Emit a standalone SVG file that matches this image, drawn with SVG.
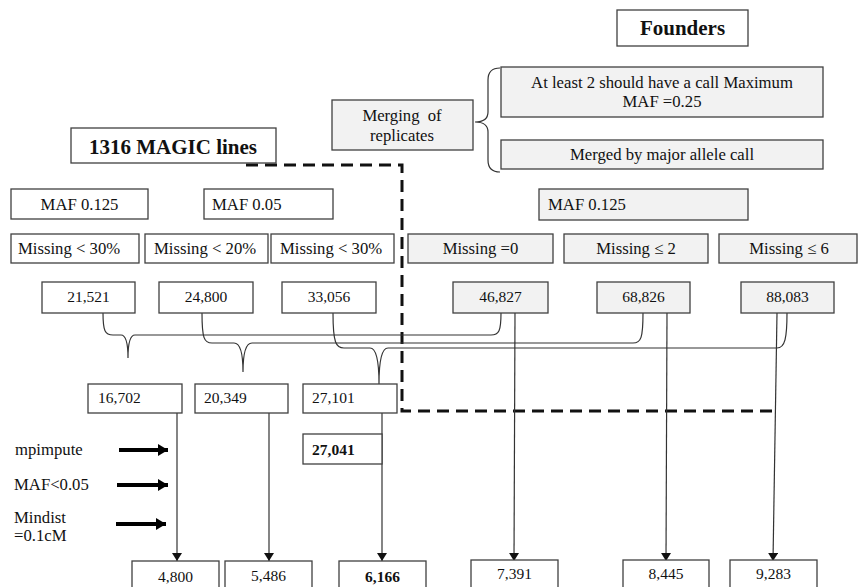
<svg xmlns="http://www.w3.org/2000/svg" width="858" height="587" viewBox="0 0 858 587">
<defs>
<style>
.b{fill:#fff;stroke:#404040;stroke-width:1.3}
.g{fill:#f2f2f2;stroke:#404040;stroke-width:1.3}
text{font-family:"Liberation Serif","Times New Roman",serif;font-size:16.7px;fill:#111}
.c{text-anchor:middle}
.bd{font-weight:bold}
.big{font-size:21px;font-weight:bold}
.num{font-size:15.5px}
.ln{fill:none;stroke:#333;stroke-width:1.2}
.dash{fill:none;stroke:#111;stroke-width:3;stroke-dasharray:12 7}
.thick{stroke:#000;stroke-width:4}
</style>
<marker id="ah" viewBox="0 0 8 10" refX="8" refY="5" markerWidth="8" markerHeight="10" markerUnits="userSpaceOnUse" orient="auto"><path d="M0,0 L8,5 L0,10 z" fill="#111"/></marker>
<marker id="ahb" viewBox="0 0 10 12" refX="10" refY="6" markerWidth="10" markerHeight="12" markerUnits="userSpaceOnUse" orient="auto"><path d="M0,0 L10,6 L0,12 z" fill="#000"/></marker>
</defs>

<g id="connectors">
<path class="dash" d="M246,165 L402,165 L402,411 L776,411"/>
<path class="ln" d="M500,68 Q488,68 488,80 L488,112 Q488,122 475,122 Q488,122 488,132 L488,160 Q488,172 500,172"/>
<path class="ln" d="M103,313 C103,331 105,335 113,335 L121,335 Q128,335 128,358 Q128,335 135,335 L491,335 C499,335 501,331 501,313"/>
<path class="ln" d="M202,313 C202,338 204,343 212,343 L234,343 Q243,343 243,372 Q243,343 252,343 L633,343 C641,343 643,338 643,313"/>
<path class="ln" d="M333,313 C333,343 336,348 344,348 L370,348 Q379,348 379,384 Q379,348 388,348 L777,348 C785,348 787,338 787,313"/>
<line class="ln" x1="177" y1="413" x2="177" y2="561" marker-end="url(#ah)"/>
<line class="ln" x1="269" y1="413" x2="269" y2="561" marker-end="url(#ah)"/>
<line class="ln" x1="382" y1="413" x2="382" y2="561" marker-end="url(#ah)"/>
<line class="ln" x1="515" y1="313" x2="514" y2="561" marker-end="url(#ah)"/>
<line class="ln" x1="667" y1="313" x2="666" y2="561" marker-end="url(#ah)"/>
<line class="ln" x1="777" y1="313" x2="773" y2="561" marker-end="url(#ah)"/>
<line class="thick" x1="119" y1="450" x2="168" y2="450" marker-end="url(#ahb)"/>
<line class="thick" x1="117" y1="485" x2="168" y2="485" marker-end="url(#ahb)"/>
<line class="thick" x1="116" y1="524" x2="166" y2="524" marker-end="url(#ahb)"/>
</g>

<g id="founders"><rect class="b" x="617" y="10" width="131" height="36"/><text class="big c" x="682.5" y="35">Founders</text></g>
<g id="merging"><rect class="g" x="332" y="100" width="141" height="50"/><text class="c" x="402" y="121" word-spacing="4">Merging of</text><text class="c" x="402" y="141">replicates</text></g>
<g id="atleast"><rect class="g" x="501" y="67" width="322" height="50"/><text class="c" x="662" y="88">At least 2 should have a call Maximum</text><text class="c" x="662" y="107">MAF =0.25</text></g>
<g id="merged"><rect class="g" x="501" y="140" width="322" height="29"/><text class="c" x="662" y="160">Merged by major allele  call</text></g>
<g id="magic"><rect class="b" x="71" y="128" width="205" height="35"/><text class="big c" x="173" y="154">1316 MAGIC lines</text></g>

<g id="maf1"><rect class="b" x="11" y="189" width="137" height="30"/><text class="c" x="79.5" y="210">MAF 0.125</text></g>
<g id="maf2"><rect class="b" x="204" y="189" width="129" height="30"/><text x="212" y="210">MAF 0.05</text></g>
<g id="maf3"><rect class="g" x="539" y="189" width="209" height="31"/><text x="548" y="210">MAF 0.125</text></g>

<g id="miss1"><rect class="b" x="11" y="234" width="128" height="29"/><text x="18" y="254">Missing &lt; 30%</text></g>
<g id="miss2"><rect class="b" x="145" y="234" width="123" height="29"/><text x="154" y="254">Missing &lt; 20%</text></g>
<g id="miss3"><rect class="b" x="271" y="234" width="123" height="29"/><text x="280" y="254">Missing &lt; 30%</text></g>
<g id="miss4"><rect class="g" x="408" y="234" width="145" height="29"/><text class="c" x="480.5" y="254">Missing =0</text></g>
<g id="miss5"><rect class="g" x="564" y="234" width="144" height="29"/><text class="c" x="636" y="254">Missing ≤ 2</text></g>
<g id="miss6"><rect class="g" x="719" y="234" width="138" height="29"/><text class="c" x="789" y="254">Missing ≤ 6</text></g>

<g id="n21521"><rect class="b" x="42" y="282" width="93" height="31"/><text class="c num" x="88.5" y="302">21,521</text></g>
<g id="n24800"><rect class="b" x="159" y="282" width="94" height="31"/><text class="c num" x="206" y="302">24,800</text></g>
<g id="n33056"><rect class="b" x="282" y="282" width="94" height="31"/><text class="c num" x="329" y="302">33,056</text></g>
<g id="n46827"><rect class="g" x="453" y="282" width="95" height="31"/><text class="c num" x="500.5" y="302">46,827</text></g>
<g id="n68826"><rect class="g" x="597" y="282" width="93" height="31"/><text class="c num" x="643.5" y="302">68,826</text></g>
<g id="n88083"><rect class="g" x="741" y="282" width="93" height="31"/><text class="c num" x="787.5" y="302">88,083</text></g>

<g id="n16702"><rect class="b" x="88" y="384" width="94" height="29"/><text class="num" x="98" y="403">16,702</text></g>
<g id="n20349"><rect class="b" x="195" y="384" width="93" height="29"/><text class="num" x="204" y="403">20,349</text></g>
<g id="n27101"><rect class="b" x="303" y="384" width="94" height="29"/><text class="num" x="312" y="403">27,101</text></g>
<g id="n27041"><rect class="b" x="303" y="434" width="79" height="30"/><text class="num bd" x="312" y="455">27,041</text></g>

<g id="lbl_mpimpute"><text x="15" y="455">mpimpute</text></g>
<g id="lbl_maf"><text x="14" y="490">MAF&lt;0.05</text></g>
<g id="lbl_mindist"><text x="14" y="523">Mindist</text><text x="14" y="541">=0.1cM</text></g>

<g id="n4800"><rect class="b" x="132" y="561" width="87" height="30"/><text class="c num" x="175.5" y="582">4,800</text></g>
<g id="n5486"><rect class="b" x="225" y="561" width="87" height="30"/><text class="c num" x="268.5" y="581">5,486</text></g>
<g id="n6166"><rect class="b" x="339" y="561" width="87" height="30"/><text class="c num bd" x="382.5" y="582">6,166</text></g>
<g id="n7391"><rect class="b" x="471" y="560" width="87" height="30"/><text class="c num" x="514.5" y="579">7,391</text></g>
<g id="n8445"><rect class="b" x="623" y="560" width="86" height="30"/><text class="c num" x="666" y="579">8,445</text></g>
<g id="n9283"><rect class="b" x="730" y="560" width="87" height="30"/><text class="c num" x="773.5" y="579">9,283</text></g>
</svg>
